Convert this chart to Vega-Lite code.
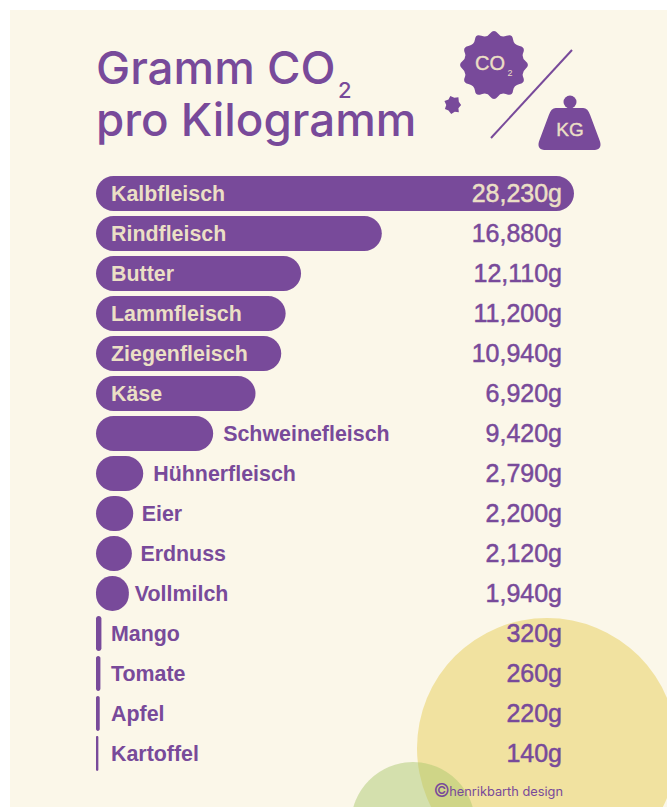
{
"$schema":"https://vega.github.io/schema/vega-lite/v6.json",
"width":657,"height":797,
"padding":{"left":10,"top":10,"right":0,"bottom":0},
"autosize":{"type":"none"},
"background":"#ffffff",
"view":{"fill":"#FBF7E9","stroke":null},
"resolve":{"scale":{"x":"independent","y":"independent"}},
"layer":[
{"data":{"values":[{"k":1}]},
 "layer":[
 {"mark":{"type":"point","shape":"circle","filled":true,"opacity":1,"color":"#F1E2A0","clip":true,"size":67600},
  "encoding":{"x":{"datum":547,"type":"quantitative","scale":{"domain":[10,667],"range":[0,657],"nice":false,"zero":false},"axis":null},"y":{"datum":748,"type":"quantitative","scale":{"domain":[10,807],"range":[0,797],"nice":false,"zero":false},"axis":null}}},
 {"mark":{"type":"point","shape":"circle","filled":true,"opacity":0.48,"color":"#AAC76C","clip":true,"size":15376},
  "encoding":{"x":{"datum":413,"type":"quantitative","scale":{"domain":[10,667],"range":[0,657],"nice":false,"zero":false},"axis":null},"y":{"datum":824,"type":"quantitative","scale":{"domain":[10,807],"range":[0,797],"nice":false,"zero":false},"axis":null}}}
 ]},
{"data":{"values":[
 {"name":"Kalbfleisch","bar":28230,"label":"28,230g"},
 {"name":"Rindfleisch","bar":16880,"label":"16,880g"},
 {"name":"Butter","bar":12110,"label":"12,110g"},
 {"name":"Lammfleisch","bar":11200,"label":"11,200g"},
 {"name":"Ziegenfleisch","bar":10940,"label":"10,940g"},
 {"name":"Käse","bar":9420,"label":"6,920g"},
 {"name":"Schweinefleisch","bar":6920,"label":"9,420g"},
 {"name":"Hühnerfleisch","bar":2790,"label":"2,790g"},
 {"name":"Eier","bar":2200,"label":"2,200g"},
 {"name":"Erdnuss","bar":2120,"label":"2,120g"},
 {"name":"Vollmilch","bar":1940,"label":"1,940g"},
 {"name":"Mango","bar":320,"label":"320g"},
 {"name":"Tomate","bar":260,"label":"260g"},
 {"name":"Apfel","bar":220,"label":"220g"},
 {"name":"Kartoffel","bar":140,"label":"140g"}
 ]},
 "encoding":{"y":{"field":"name","type":"nominal","sort":null,"axis":null,
   "scale":{"domain":["Kalbfleisch","Rindfleisch","Butter","Lammfleisch","Ziegenfleisch","Käse","Schweinefleisch","Hühnerfleisch","Eier","Erdnuss","Vollmilch","Mango","Tomate","Apfel","Kartoffel"],"range":[163.4,763.4],"paddingInner":0.125,"paddingOuter":0.0625}}},
 "layer":[
 {"mark":{"type":"bar","color":"#784A9A","cornerRadius":17.5},
  "encoding":{"x":{"field":"bar","type":"quantitative","stack":null,"axis":null,"scale":{"domain":[-5079,33723],"zero":false,"nice":false}}}},
 {"transform":[{"filter":{"field":"name","oneOf":["Kalbfleisch","Rindfleisch","Butter","Lammfleisch","Ziegenfleisch","Käse"]}}],
  "mark":{"type":"text","align":"left","dx":15,"dy":1.5,"font":"Liberation Sans","fontWeight":"bold","fontSize":21.4,"color":"#EBDFC5"},
  "encoding":{"x":{"datum":0,"type":"quantitative"},"text":{"field":"name"}}},
 {"transform":[{"filter":{"field":"name","oneOf":["Mango","Tomate","Apfel","Kartoffel"]}}],
  "mark":{"type":"text","align":"left","dx":15,"dy":1.5,"font":"Liberation Sans","fontWeight":"bold","fontSize":21.4,"color":"#784A9A"},
  "encoding":{"x":{"datum":0,"type":"quantitative"},"text":{"field":"name"}}},
 {"transform":[{"filter":{"field":"name","oneOf":["Schweinefleisch","Hühnerfleisch"]}}],
  "mark":{"type":"text","align":"left","dx":10,"dy":1.5,"font":"Liberation Sans","fontWeight":"bold","fontSize":21.4,"color":"#784A9A"},
  "encoding":{"x":{"field":"bar","type":"quantitative"},"text":{"field":"name"}}},
 {"transform":[{"filter":{"field":"name","oneOf":["Eier","Erdnuss"]}}],
  "mark":{"type":"text","align":"left","dx":8.5,"dy":1.5,"font":"Liberation Sans","fontWeight":"bold","fontSize":21.4,"color":"#784A9A"},
  "encoding":{"x":{"field":"bar","type":"quantitative"},"text":{"field":"name"}}},
 {"transform":[{"filter":{"field":"name","equal":"Vollmilch"}}],
  "mark":{"type":"text","align":"left","dx":6,"dy":1.5,"font":"Liberation Sans","fontWeight":"bold","fontSize":21.4,"color":"#784A9A"},
  "encoding":{"x":{"field":"bar","type":"quantitative"},"text":{"field":"name"}}},
 {"transform":[{"filter":{"field":"name","equal":"Kalbfleisch"}}],
  "mark":{"type":"text","align":"right","dy":1,"font":"Liberation Sans","fontSize":25,"color":"#EBDFC5","stroke":"#EBDFC5","strokeWidth":0.5},
  "encoding":{"x":{"datum":27522,"type":"quantitative"},"text":{"field":"label"}}},
 {"transform":[{"filter":{"not":{"field":"name","equal":"Kalbfleisch"}}}],
  "mark":{"type":"text","align":"right","dy":1,"font":"Liberation Sans","fontSize":25,"color":"#784A9A","stroke":"#784A9A","strokeWidth":0.5},
  "encoding":{"x":{"datum":27522,"type":"quantitative"},"text":{"field":"label"}}}
 ]},
{"data":{"values":[{"k":1}]},
 "encoding":{
  "x":{"datum":10,"type":"quantitative","scale":{"domain":[10,667],"range":[0,657],"nice":false,"zero":false},"axis":null},
  "y":{"datum":10,"type":"quantitative","scale":{"domain":[10,807],"range":[0,797],"nice":false,"zero":false},"axis":null}
 },
 "layer":[
 {"mark":{"type":"text","text":"Gramm CO","align":"left","baseline":"alphabetic","font":"Inter","fontWeight":500,"fontSize":45.7,"color":"#784A9A"},
  "encoding":{"x":{"datum":96,"type":"quantitative"},"y":{"datum":84,"type":"quantitative"}}},
 {"mark":{"type":"text","text":"2","align":"left","baseline":"alphabetic","font":"Inter","fontWeight":500,"fontSize":22,"color":"#784A9A"},
  "encoding":{"x":{"datum":338,"type":"quantitative"},"y":{"datum":98,"type":"quantitative"}}},
 {"mark":{"type":"text","text":"pro Kilogramm","align":"left","baseline":"alphabetic","font":"Inter","fontWeight":500,"fontSize":45.7,"color":"#784A9A"},
  "encoding":{"x":{"datum":96,"type":"quantitative"},"y":{"datum":136,"type":"quantitative"}}},
 {"mark":{"type":"point","filled":true,"opacity":1,"color":"#784A9A","size":4489,"shape":"M.946 -.111Q1.08 0 .946 .111Q.811 .223 .875 .376Q.938 .53 .763 .569Q.588 .608 .569 .763Q.55 .938 .376 .875Q.203 .811 .111 .946Q0 1.08 -.111 .946Q-.203 .811 -.376 .875Q-.55 .938 -.569 .763Q-.588 .608 -.763 .569Q-.938 .53 -.875 .376Q-.811 .223 -.946 .111Q-1.08 0 -.946 -.111Q-.811 -.223 -.875 -.376Q-.938 -.53 -.763 -.569Q-.588 -.608 -.569 -.763Q-.55 -.938 -.376 -.875Q-.203 -.811 -.111 -.946Q0 -1.08 .111 -.946Q.203 -.811 .376 -.875Q.55 -.938 .569 -.763Q.588 -.608 .763 -.569Q.938 -.53 .875 -.376Q.811 -.223 .946 -.111Z"},
  "encoding":{"x":{"datum":494,"type":"quantitative"},"y":{"datum":65,"type":"quantitative"}}},
 {"mark":{"type":"point","filled":true,"opacity":1,"color":"#784A9A","size":324,"shape":"M.9 0L.6 .35L.65 .8L.2 .75L-.2 1L-.5 .6L-.9 .45L-.75 0L-.95 -.45L-.5 -.6L-.3 -1L.15 -.8L.6 -.85L.65 -.35Z"},
  "encoding":{"x":{"datum":453,"type":"quantitative"},"y":{"datum":105,"type":"quantitative"}}},
 {"mark":{"type":"rule","color":"#784A9A","strokeWidth":2},
  "encoding":{"x":{"datum":572,"type":"quantitative"},"y":{"datum":50,"type":"quantitative"},"x2":{"datum":491},"y2":{"datum":138}}},
 {"mark":{"type":"point","filled":true,"opacity":1,"color":"#784A9A","size":3721,"shape":"M-.45 -.69L.45 -.69Q.6 -.69 .68 -.45L.98 .35Q1.12 .69 .75 .69L-.75 .69Q-1.12 .69 -.98 .35L-.68 -.45Q-.6 -.69 -.45 -.69Z"},
  "encoding":{"x":{"datum":569.5,"type":"quantitative"},"y":{"datum":129,"type":"quantitative"}}},
 {"mark":{"type":"point","shape":"circle","filled":true,"opacity":1,"color":"#784A9A","size":169},
  "encoding":{"x":{"datum":570,"type":"quantitative"},"y":{"datum":102,"type":"quantitative"}}},
 {"mark":{"type":"text","text":"CO","align":"left","baseline":"alphabetic","font":"Liberation Sans","fontSize":20,"color":"#EBDFC5","stroke":"#EBDFC5","strokeWidth":0.4},
  "encoding":{"x":{"datum":475,"type":"quantitative"},"y":{"datum":70,"type":"quantitative"}}},
 {"mark":{"type":"text","text":"2","align":"left","baseline":"alphabetic","font":"Liberation Sans","fontSize":9,"color":"#EBDFC5"},
  "encoding":{"x":{"datum":507.5,"type":"quantitative"},"y":{"datum":76,"type":"quantitative"}}},
 {"mark":{"type":"text","text":"KG","align":"center","baseline":"alphabetic","font":"Liberation Sans","fontSize":19,"color":"#EBDFC5","stroke":"#EBDFC5","strokeWidth":0.4},
  "encoding":{"x":{"datum":570,"type":"quantitative"},"y":{"datum":136,"type":"quantitative"}}},
 {"mark":{"type":"text","text":"©","align":"left","baseline":"alphabetic","font":"Inter","fontSize":18,"color":"#784A9A"},
  "encoding":{"x":{"datum":433.5,"type":"quantitative"},"y":{"datum":797,"type":"quantitative"}}},
 {"mark":{"type":"text","text":"henrikbarth design","align":"right","baseline":"alphabetic","font":"Inter","fontSize":12.8,"color":"#784A9A"},
  "encoding":{"x":{"datum":563,"type":"quantitative"},"y":{"datum":796,"type":"quantitative"}}}
 ]}
]}
